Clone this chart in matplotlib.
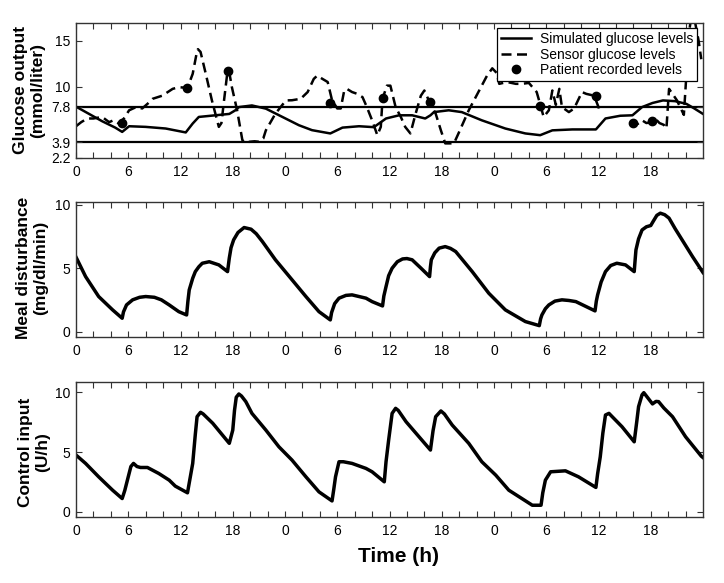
import numpy as np
import matplotlib
matplotlib.use("Agg")
import matplotlib.pyplot as plt

plt.rcParams['font.family'] = ['Liberation Sans', 'DejaVu Sans']

# ---- data (time in hours from start) ----
sim_t = [0, 1.5, 3, 4.5, 5.3, 6.1, 8, 10.3, 12.6, 13.4, 14.1, 16, 17.6, 18.3, 18.7,
         20.2, 21.8, 23.7, 25.6, 27.1, 29.2, 30.6, 32.5, 34.2, 35.6, 37.1, 38.6, 40.1,
         40.7, 41.1, 42.8, 44.3, 46.6, 49.3, 51.6, 53.3, 54.7, 57, 59.7, 60.8, 62.5,
         63.9, 65, 66.2, 67.4, 68.8, 70.1, 71, 72]
sim_y = [7.8, 7.0, 6.2, 5.5, 5.03, 5.65, 5.58, 5.4, 4.97, 5.95, 6.67, 6.85, 7.0, 7.4, 7.75,
         7.93, 7.58, 6.67, 5.76, 5.22, 4.86, 5.5, 5.65, 5.55, 6.5, 6.85, 6.85, 6.5,
         6.85, 7.2, 7.4, 7.2, 6.3, 5.4, 4.86, 4.67, 5.2, 5.3, 5.3, 6.5, 6.8,
         6.85, 7.75, 8.2, 8.48, 8.4, 8.1, 7.6, 7.0]

sensor_t = [0.0, 0.6, 1.3, 2.0, 3.0, 3.8, 4.3, 4.9, 5.5, 6.1, 6.9, 7.6, 8.2, 8.8, 9.9,
            11.1, 11.8, 12.8, 13.4, 13.9, 14.0, 14.3, 14.9, 15.6, 16.4, 16.7, 17.0,
            17.4, 17.6, 17.9, 18.5, 19.1, 19.4, 20.5, 21.0, 21.5, 21.8, 22.9, 24.1,
            24.8, 25.8, 26.6, 27.3, 27.7, 28.3, 28.9, 29.4, 30.0, 30.4, 30.8, 31.1,
            31.7, 32.3, 32.9, 33.4, 34.0, 34.6, 35.0, 35.2, 35.7, 36.1, 36.7, 37.3,
            37.8, 38.4, 39.0, 39.6, 40.0, 40.6, 41.3, 41.9, 42.4, 43.4, 44.0, 45.1,
            46.3, 47.2, 47.8, 48.3, 48.6, 49.5, 50.5, 51.2, 52.0, 52.9, 53.2, 53.7,
            54.3, 54.7, 55.1, 55.5, 55.8, 56.6, 57.2, 58.1, 58.6, 59.5, 60.0, 60.2,
            62.0, 63.7, 64.0, 64.5, 65.0, 65.5, 66.1, 66.6, 67.0, 67.5, 67.8, 68.1,
            69.0, 69.8, 70.0, 70.4, 70.8, 71.5, 71.8]
sensor_y = [5.65, 6.1, 6.5, 6.5, 6.67, 6.1, 6.3, 5.95, 6.5, 7.4, 7.75, 7.6, 8.1, 8.66, 9.0,
            9.75, 9.93, 9.86, 11.4, 13.9, 14.1, 13.8, 11.4, 8.5, 5.58, 6.0, 8.5,
            11.7, 11.56, 9.93, 7.4, 4.13, 3.9, 4.0, 3.95, 4.3, 5.2, 7.03, 8.48,
            8.5, 8.66, 9.4, 10.84, 11.2, 10.84, 10.5, 8.5, 7.6, 7.6, 9.57, 9.75,
            9.4, 9.2, 8.84, 7.75, 6.3, 4.67, 5.58, 8.66, 10.1, 10.1, 7.75, 6.67,
            5.58, 4.86, 7.03, 9.0, 9.57, 8.3, 7.03, 5.2, 3.77, 3.77, 5.03, 7.4,
            9.57, 11.2, 12.0, 11.5, 10.3, 10.5, 10.3, 10.3, 10.4, 9.4, 8.4, 6.67,
            7.4, 9.57, 8.0, 9.75, 7.75, 7.2, 7.6, 9.4, 9.2, 9.0, 7.75, 7.03,
            np.nan, 5.76, 6.1, 5.9, 6.3, 6.0, 6.1, 6.4, 6.0, 5.8, 5.4, 9.75,
            8.5, 6.9, 9.9, 16.0, 18.5, 15.0, 13.0]

patient_t = [5.3, 12.8, 17.5, 29.2, 35.2, 40.6, 53.3, 59.7, 64.0, 66.1]
patient_y = [6.05, 9.86, 11.66, 8.23, 8.77, 8.3, 7.83, 8.95, 6.0, 6.23]

glucose_limits = [3.9, 7.8]

meal_t = [0, 1.1, 2.6, 4.2, 5.3, 5.45, 5.8, 6.5, 7.3, 8, 9.0, 9.8, 10.7, 11.8, 12.7,
          12.85, 13.0, 13.4, 13.7, 14.1, 14.5, 15.3, 16.4, 17.4, 17.6, 17.8, 18.1,
          18.6, 19.3, 20.1, 20.7, 21.4, 22.9, 24.5, 26.4, 27.9, 29.2, 29.35, 29.7,
          30.2, 31.0, 31.7, 33.3, 34.0, 35.2, 35.35, 35.6, 35.9, 36.3, 36.9, 37.5,
          38.0, 38.6, 39.6, 40.6, 40.7, 40.8, 41.2, 41.7, 42.4, 43.0, 43.6, 45.5,
          47.4, 49.3, 51.6, 53.2, 53.35, 53.5, 53.9, 54.3, 55.0, 55.8, 56.6, 57.4,
          59.6, 59.75, 59.9, 60.3, 60.8, 61.4, 62.1, 63.1, 64.1, 64.2, 64.3, 64.6,
          65.0, 65.5, 66.0, 66.3, 66.7, 67.1, 67.6, 68.1, 68.8, 69.6, 70.8, 72]
meal_y = [5.86, 4.33, 2.76, 1.71, 1.05, 1.55, 2.1, 2.5, 2.7, 2.76, 2.7, 2.5, 2.1, 1.57, 1.31,
          2.4, 3.28, 4.2, 4.72, 5.1, 5.38, 5.5, 5.25, 4.72, 5.78, 6.6, 7.22,
          7.8, 8.19, 8.06, 7.7, 7.09, 5.65, 4.33, 2.76, 1.57, 0.92, 1.5, 2.2,
          2.63, 2.85, 2.89, 2.63, 2.36, 2.02, 2.8, 3.54, 4.4, 4.99, 5.5, 5.72,
          5.75, 5.65, 5.0, 4.33, 5.1, 5.65, 6.2, 6.57, 6.69, 6.55, 6.3, 4.72,
          3.02, 1.71, 0.79, 0.47, 1.0, 1.31, 1.8, 2.1, 2.4, 2.5, 2.45, 2.36,
          1.63, 2.4, 2.89, 3.9, 4.72, 5.2, 5.38, 5.25, 4.72, 5.6, 6.43, 7.3,
          8.0, 8.25, 8.35, 8.7, 9.15, 9.32, 9.2, 8.93, 8.1, 7.22, 5.9, 4.65]

ctrl_t = [0, 1.1, 2.6, 4.2, 5.3, 5.6, 5.9, 6.3, 6.6, 7.0, 7.4, 8.2, 9.5, 10.7, 11.4, 12.8,
          13.4, 13.7, 13.9, 14.3, 14.6, 15.7, 17.6, 18.0, 18.2, 18.4, 18.7, 19.0,
          19.5, 20.2, 21.8, 23.3, 24.8, 26.4, 27.9, 29.4, 29.6, 29.8, 30.2, 30.7,
          31.7, 33.3, 34.0, 35.4, 35.6, 35.9, 36.3, 36.7, 37.0, 37.9, 40.7, 41.0,
          41.3, 41.9, 42.3, 43.2, 45.1, 46.6, 48.2, 49.7, 51.2, 52.4, 53.4, 53.6,
          53.9, 54.5, 56.2, 57.7, 59.7, 59.9, 60.2, 60.5, 60.8, 61.2, 61.6, 62.7,
          64.1, 64.4, 64.6, 65.0, 65.2, 65.5, 66.2, 66.6, 66.9, 67.5, 68.5, 70.0,
          71.8, 72]
ctrl_y = [4.76, 4.06, 2.94, 1.82, 1.12, 1.8, 2.66, 3.8, 4.06, 3.8, 3.72, 3.72, 3.22, 2.66,
          2.16, 1.6, 4.06, 6.5, 7.97, 8.34, 8.2, 7.42, 5.74, 6.85, 8.5, 9.6, 9.87,
          9.7, 9.23, 8.25, 6.85, 5.45, 4.34, 2.94, 1.68, 0.92, 1.9, 2.94, 4.2, 4.2,
          4.06, 3.64, 3.36, 2.52, 4.2, 6.01, 8.25, 8.67, 8.5, 7.55, 5.18, 6.8,
          7.97, 8.45, 8.2, 7.27, 5.74, 4.2, 3.08, 1.82, 1.12, 0.56, 0.56, 1.6,
          2.66, 3.36, 3.44, 2.94, 2.05, 3.2, 4.61, 6.6, 8.11, 8.25, 7.95, 7.13,
          5.87, 7.6, 8.81, 9.8, 9.98, 9.7, 9.04, 9.25, 9.23, 8.7, 7.97, 6.29,
          4.67, 4.55]

hour_labels = ['0', '6', '12', '18'] * 3
glucose_ticks = [2.2, 3.9, 7.8, 10, 15]
other_ticks = [0, 5, 10]

# ---- figure ----
fig = plt.figure(figsize=(7.24, 5.83), dpi=100)
fig.patch.set_facecolor('white')

ax1 = fig.add_axes([0.105, 0.7295, 0.866, 0.2315])
ax2 = fig.add_axes([0.105, 0.4225, 0.866, 0.231])
ax3 = fig.add_axes([0.105, 0.1137, 0.866, 0.2316])


def style_axis(ax, yticks):
    ax.set_xlim(0, 72)
    ax.set_xticks(np.arange(0, 72, 6))
    ax.set_xticklabels(hour_labels)
    ax.set_xticks(np.arange(0, 72, 2), minor=True)
    ax.set_yticks(yticks)
    ax.set_yticklabels([f'{v:g}' for v in yticks])
    ax.tick_params(which='both', direction='in', top=True, right=True,
                   length=4.5, width=0.8, labelsize=10, color='#333333')
    ax.tick_params(axis='x', pad=5)
    ax.tick_params(axis='y', pad=4)
    for sp in ax.spines.values():
        sp.set_linewidth(1.0)
        sp.set_color('#333333')


# panel 1: glucose
for lim in glucose_limits:
    ax1.axhline(lim, color='black', lw=1.6, zorder=1)
ax1.plot(sim_t, sim_y, color='black', lw=1.8, label='Simulated glucose levels', zorder=2)
ax1.plot(sensor_t, sensor_y, color='black', lw=1.8, ls='--', dashes=(4, 2.2),
         label='Sensor glucose levels', zorder=2)
ax1.plot(patient_t, patient_y, 'o', color='black', ms=6, label='Patient recorded levels', zorder=3)
ax1.set_ylim(2.2, 17)
style_axis(ax1, glucose_ticks)
leg = ax1.legend(loc='upper right', bbox_to_anchor=(0.991, 0.963), borderaxespad=0,
                 fontsize=10, handlelength=2.2, handletextpad=0.6, labelspacing=0.12,
                 borderpad=0.3, fancybox=False, framealpha=1, edgecolor='black')
leg.get_frame().set_linewidth(0.9)
leg.set_zorder(5)

# panel 2: meal disturbance
ax2.plot(meal_t, meal_y, color='black', lw=2.5, solid_joinstyle='round')
ax2.set_ylim(-0.4, 10.2)
style_axis(ax2, other_ticks)

# panel 3: control input
ax3.plot(ctrl_t, ctrl_y, color='black', lw=2.5, solid_joinstyle='round')
ax3.set_ylim(-0.4, 10.9)
style_axis(ax3, other_ticks)

# y labels (two lines, bold)
label_kw = dict(rotation=90, ha='center', va='center', fontsize=12.5,
                fontweight='bold', multialignment='center')
fig.text(29 / 724, 1 - 90 / 583, 'Glucose output\n(mmol/liter)', **label_kw)
fig.text(32 / 724, 1 - 268 / 583, 'Meal disturbance\n(mg/dl/min)', **label_kw)
fig.text(34 / 724, 1 - 452 / 583, 'Control input\n(U/h)', **label_kw)

fig.text(398 / 724, 1 - 556 / 583, 'Time (h)', ha='center', va='center',
         fontsize=15, fontweight='bold')

fig.savefig('out.png', dpi=100, facecolor='white')
